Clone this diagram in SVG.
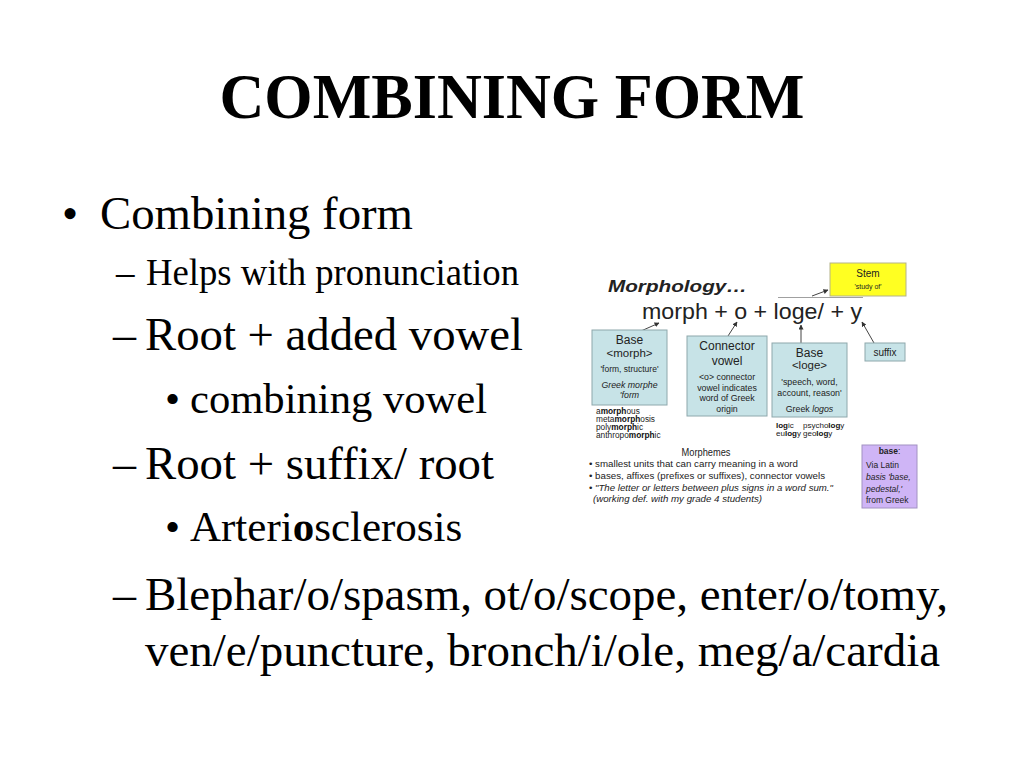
<svg xmlns="http://www.w3.org/2000/svg" width="1024" height="768" viewBox="0 0 1024 768">
  <defs>
    <marker id="ah" viewBox="0 0 10 10" refX="9" refY="5" markerWidth="5" markerHeight="5" orient="auto" markerUnits="userSpaceOnUse">
      <path d="M0,0 L10,5 L0,10 z" fill="#333"/>
    </marker>
    <style>
      .serif { font-family: "Liberation Serif", "Times New Roman", serif; fill: #000; }
      .sans { font-family: "Liberation Sans", Arial, sans-serif; fill: #222; }
      .box { fill: #c7e3e7; stroke: #8ea8ac; stroke-width: 1; }
      .stem { fill: #ffff22; stroke: #b5b38a; stroke-width: 1; }
      .purple { fill: #cfb5f6; stroke: #a292c2; stroke-width: 1; }
      .conn { stroke: #444; stroke-width: 1; fill: none; marker-end: url(#ah); }
      .c { text-anchor: middle; }
      .b { font-weight: bold; }
      .i { font-style: italic; }
    </style>
  </defs>
  <rect width="1024" height="768" fill="#fff"/>

  <!-- Slide title -->
  <text class="serif b c" x="512" y="118" font-size="63" textLength="585" lengthAdjust="spacingAndGlyphs">COMBINING FORM</text>

  <!-- Slide bullet text -->
  <g id="slide-text">
    <text class="serif" x="62" y="229" font-size="46">•</text>
    <text class="serif" x="100" y="229" font-size="46" textLength="313" lengthAdjust="spacingAndGlyphs">Combining form</text>

    <text class="serif" x="116" y="285" font-size="37">–</text>
    <text class="serif" x="146" y="285" font-size="37" textLength="373" lengthAdjust="spacingAndGlyphs">Helps with pronunciation</text>

    <text class="serif" x="113" y="350" font-size="46">–</text>
    <text class="serif" x="145" y="350" font-size="46" textLength="378" lengthAdjust="spacingAndGlyphs">Root + added vowel</text>

    <text class="serif" x="165" y="413" font-size="43">•</text>
    <text class="serif" x="190" y="413" font-size="43" textLength="297" lengthAdjust="spacingAndGlyphs">combining vowel</text>

    <text class="serif" x="113" y="479" font-size="46">–</text>
    <text class="serif" x="145" y="479" font-size="46" textLength="349" lengthAdjust="spacingAndGlyphs">Root + suffix/ root</text>

    <text class="serif" x="165" y="541" font-size="43">•</text>
    <text class="serif" x="190" y="541" font-size="43">Arteri<tspan font-weight="bold">o</tspan>sclerosis</text>

    <text class="serif" x="113" y="610" font-size="46">–</text>
    <text class="serif" x="145" y="610" font-size="46" textLength="803" lengthAdjust="spacingAndGlyphs">Blephar/o/spasm, ot/o/scope, enter/o/tomy,</text>
    <text class="serif" x="145" y="666" font-size="46" textLength="795" lengthAdjust="spacingAndGlyphs">ven/e/puncture, bronch/i/ole, meg/a/cardia</text>
  </g>

  <!-- Embedded morphology diagram -->
  <g id="morph-heading">
    <text class="sans b i" x="608" y="292" font-size="17" fill="#111" textLength="139" lengthAdjust="spacingAndGlyphs">Morphology…</text>
    <text class="sans" x="642" y="319" font-size="22" fill="#111" textLength="220" lengthAdjust="spacingAndGlyphs">morph + o + loge/ + y</text>
  </g>

  <g id="connectors">
    <line x1="778" y1="297.5" x2="863" y2="297.5" stroke="#888" stroke-width="0.8"/>
    <line class="conn" x1="812" y1="296" x2="828" y2="290"/>
    <line class="conn" x1="641" y1="331" x2="659" y2="323"/>
    <line class="conn" x1="728" y1="336" x2="737" y2="322"/>
    <line class="conn" x1="801" y1="343" x2="801" y2="325"/>
    <line class="conn" x1="874" y1="343" x2="862" y2="322"/>
  </g>

  <g id="node-stem">
    <rect class="stem" x="830" y="263" width="76" height="33"/>
    <text class="sans c" x="868" y="277" font-size="10">Stem</text>
    <text class="sans c" x="868" y="289" font-size="7">'study of'</text>
  </g>

  <g id="node-base-morph">
    <rect class="box" x="592" y="330" width="75" height="75"/>
    <text class="sans c" x="629.5" y="344" font-size="12">Base</text>
    <text class="sans c" x="629.5" y="357" font-size="11.5">&lt;morph&gt;</text>
    <text class="sans c" x="629.5" y="372" font-size="8.5">'form, structure'</text>
    <text class="sans c i" x="629.5" y="388" font-size="8.8">Greek morphe</text>
    <text class="sans c i" x="629.5" y="398" font-size="8.8">'form</text>
  </g>

  <g id="morph-examples">
    <text class="sans" x="596" y="414" font-size="8.3" fill="#444">a<tspan class="b" fill="#111">morph</tspan>ous</text>
    <text class="sans" x="596" y="422" font-size="8.3" fill="#444">meta<tspan class="b" fill="#111">morph</tspan>osis</text>
    <text class="sans" x="596" y="430" font-size="8.3" fill="#444">poly<tspan class="b" fill="#111">morph</tspan>ic</text>
    <text class="sans" x="596" y="438" font-size="8.3" fill="#444">anthropo<tspan class="b" fill="#111">morph</tspan>ic</text>
  </g>

  <g id="node-connector">
    <rect class="box" x="687" y="336" width="80" height="80"/>
    <text class="sans c" x="727" y="350" font-size="12">Connector</text>
    <text class="sans c" x="727" y="365" font-size="12">vowel</text>
    <text class="sans c" x="727" y="380" font-size="8.8">&lt;o&gt; connector</text>
    <text class="sans c" x="727" y="390.5" font-size="8.8">vowel indicates</text>
    <text class="sans c" x="727" y="401" font-size="8.8">word of Greek</text>
    <text class="sans c" x="727" y="412" font-size="8.8">origin</text>
  </g>

  <g id="node-base-loge">
    <rect class="box" x="772" y="343" width="75" height="74"/>
    <text class="sans c" x="809.5" y="357" font-size="12">Base</text>
    <text class="sans c" x="809.5" y="369" font-size="11.5">&lt;loge&gt;</text>
    <text class="sans c" x="809.5" y="385" font-size="8.8">'speech, word,</text>
    <text class="sans c" x="809.5" y="396" font-size="8.8">account, reason'</text>
    <text class="sans c" x="809.5" y="412" font-size="8.8">Greek <tspan class="i">logos</tspan></text>
  </g>

  <g id="loge-examples">
    <text class="sans" x="776" y="428" font-size="8" fill="#444"><tspan class="b" fill="#111">log</tspan>ic</text>
    <text class="sans" x="803" y="428" font-size="8" fill="#444">psycho<tspan class="b" fill="#111">log</tspan>y</text>
    <text class="sans" x="776" y="436" font-size="8" fill="#444">eu<tspan class="b" fill="#111">log</tspan>y</text>
    <text class="sans" x="803" y="436" font-size="8" fill="#444">geo<tspan class="b" fill="#111">log</tspan>y</text>
  </g>

  <g id="node-suffix">
    <rect class="box" x="865" y="343" width="40" height="18"/>
    <text class="sans c" x="885" y="355.5" font-size="10">suffix</text>
  </g>

  <g id="morphemes">
    <text class="sans c" x="706" y="456" font-size="10.5" textLength="49" lengthAdjust="spacingAndGlyphs">Morphemes</text>
    <text class="sans" x="589" y="467" font-size="9.4" textLength="209" lengthAdjust="spacingAndGlyphs">• smallest units that can carry meaning in a word</text>
    <text class="sans" x="589" y="479" font-size="9.4" textLength="236" lengthAdjust="spacingAndGlyphs">• bases, affixes (prefixes or suffixes), connector vowels</text>
    <text class="sans" x="589" y="491" font-size="9.4" textLength="244" lengthAdjust="spacingAndGlyphs">• <tspan class="i">"The letter or letters between plus signs in a word sum."</tspan></text>
    <text class="sans i" x="593" y="502" font-size="9.4" textLength="169" lengthAdjust="spacingAndGlyphs">(working def. with my grade 4 students)</text>
  </g>

  <g id="node-base-latin">
    <rect class="purple" x="862" y="445" width="55" height="63"/>
    <text class="sans c" x="889.5" y="454" font-size="8.5"><tspan class="b">base</tspan>:</text>
    <text class="sans" x="866" y="468" font-size="8.5">Via Latin</text>
    <text class="sans i" x="866" y="480" font-size="8.5">basis 'base,</text>
    <text class="sans i" x="866" y="492" font-size="8.5">pedestal,'</text>
    <text class="sans" x="866" y="503" font-size="8.5">from Greek</text>
  </g>
</svg>
